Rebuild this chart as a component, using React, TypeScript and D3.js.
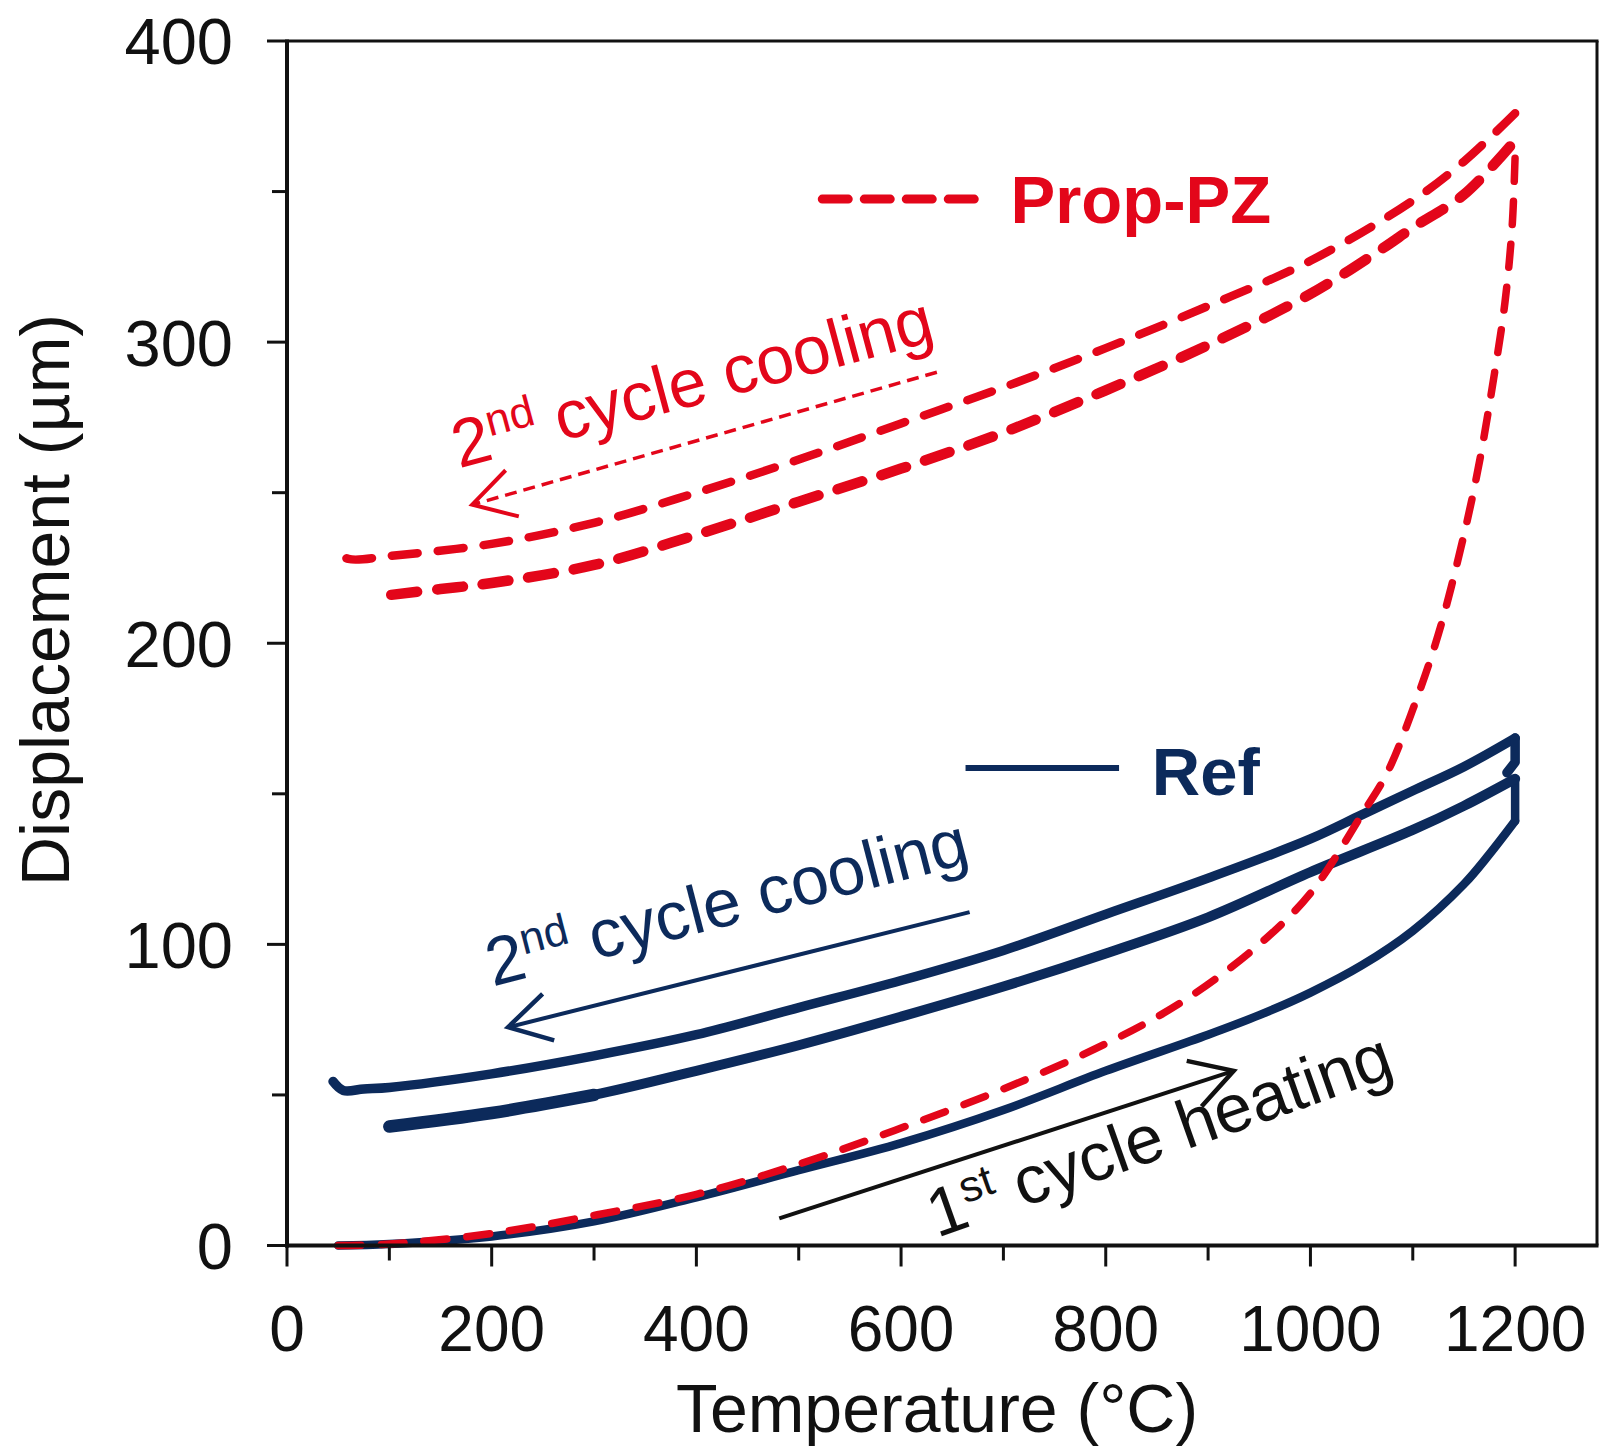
import React, { useEffect, useRef } from 'react';
import * as d3 from 'd3';

const WIDTH = 1602;
const HEIGHT = 1450;

const RED = '#e3061a';
const NAVY = '#0c2a5b';
const INK = '#111111';
const FONT = '"Liberation Sans", Arial, sans-serif';

// axis ticks
const xMajorTicks = [0, 200, 400, 600, 800, 1000, 1200];
const xMinorTicks = [100, 300, 500, 700, 900, 1100];
const yMajorTicks = [0, 100, 200, 300, 400];
const yMinorTicks = [50, 150, 250, 350];

// Prop-PZ (red dashed) : temperature (°C) / displacement (µm)
const pzHeatT = [50, 100, 200, 300, 400, 500, 600, 700, 800, 875, 950, 1000, 1050, 1075, 1100, 1125, 1150, 1165, 1180, 1190, 1197, 1200];
const pzHeatD = [0, 0.5, 4, 10, 17, 27, 39, 52, 67, 81, 100, 117, 143, 157, 178, 203, 236, 260, 290, 313, 338, 362];
const pzUpperT = [1200, 1150, 1100, 1000, 900, 800, 700, 600, 500, 400, 300, 200, 100, 60, 46];
const pzUpperD = [376, 360, 347, 327, 312, 298, 285, 273, 261, 250, 240, 233, 229, 228, 231];
const pzLowerT = [1195, 1150, 1100, 1070, 1000, 900, 800, 700, 600, 500, 400, 300, 200, 150, 100];
const pzLowerD = [365, 349, 338, 331, 316, 299, 284, 270, 258, 247, 236, 226, 220, 218, 216];

// Ref (navy solid)
const refHeatT = [50, 100, 200, 300, 400, 500, 600, 700, 800, 900, 950, 1000, 1050, 1100, 1150, 1175, 1200];
const refHeatD = [0, 0.5, 3, 8, 16, 25, 34, 45, 58, 70, 76.5, 84, 93, 104.5, 120, 130, 141];
const refHoldT = [1200, 1200];
const refHoldD = [141, 155];
const refMiddleT = [1200, 1150, 1100, 1000, 900, 800, 700, 600, 500, 400, 300, 200, 100];
const refMiddleD = [155, 146, 138, 124, 109, 97, 86, 76, 66.5, 58, 50, 44, 39.5];
const refUpperT = [45, 55, 75, 100, 200, 300, 400, 500, 600, 700, 800, 900, 1000, 1050, 1100, 1150, 1200];
const refUpperD = [54.5, 51.5, 52, 52.5, 57, 63, 70, 79, 88, 98, 110, 122, 135, 143, 151, 159, 168.5];
const refUpperHoldT = [1200, 1200, 1192];
const refUpperHoldD = [168.5, 160.5, 157];

type P = [number, number];
const zip = (t: number[], d: number[]): P[] => t.map((v, i) => [v, d[i]] as P);

const App: React.FC = () => {
  const svgRef = useRef<SVGSVGElement>(null);

  useEffect(() => {
    if (!svgRef.current) return;
    const svg = d3.select(svgRef.current);
    svg.selectAll('*').remove();

    const left = 287, right = 1597, top = 41, bottom = 1245.5;

    const x = d3.scaleLinear().domain([0, 1280]).range([left, right]);
    const y = d3.scaleLinear().domain([0, 400]).range([bottom, top]);

    const smooth = d3.line<P>()
      .x(d => x(d[0]))
      .y(d => y(d[1]))
      .curve(d3.curveCatmullRom.alpha(0.5));
    const straight = d3.line<P>()
      .x(d => x(d[0]))
      .y(d => y(d[1]));

    const g = svg.append('g');

    // Ref curves (drawn first, red goes over)
    const navyCurve = (data: P[], w: number, gen = smooth) =>
      g.append('path')
        .datum(data)
        .attr('fill', 'none')
        .attr('stroke', NAVY)
        .attr('stroke-width', w)
        .attr('stroke-linecap', 'round')
        .attr('stroke-linejoin', 'round')
        .attr('d', gen);

    navyCurve(zip(refHeatT, refHeatD), 8.5);
    navyCurve(zip(refHoldT, refHoldD), 8.5, straight);
    navyCurve(zip(refMiddleT, refMiddleD), 10);
    // thicker overlapping start of the cooling trace
    navyCurve(zip(refMiddleT, refMiddleD).filter(p => p[0] <= 300), 12.5);
    navyCurve(zip(refUpperT, refUpperD), 9.5);
    navyCurve(zip(refUpperHoldT, refUpperHoldD), 9.5, straight);

    // Prop-PZ curves
    const redCurve = (data: P[], w: number, dash: string) =>
      g.append('path')
        .datum(data)
        .attr('fill', 'none')
        .attr('stroke', RED)
        .attr('stroke-width', w)
        .attr('stroke-linecap', 'round')
        .attr('stroke-dasharray', dash)
        .attr('d', smooth);

    redCurve(zip(pzHeatT, pzHeatD), 7.5, '23,20');
    redCurve(zip(pzUpperT, pzUpperD), 8.5, '26,20');
    redCurve(zip(pzLowerT, pzLowerD), 10.5, '26,20');

    // Frame
    const frame = svg.append('g').attr('stroke', INK).attr('fill', 'none');
    frame.append('line').attr('x1', left).attr('x2', left).attr('y1', top - 1.5).attr('y2', bottom + 2).attr('stroke-width', 4);
    frame.append('line').attr('x1', left - 2).attr('x2', right + 1.5).attr('y1', bottom).attr('y2', bottom).attr('stroke-width', 4);
    frame.append('line').attr('x1', left).attr('x2', right + 1.5).attr('y1', top).attr('y2', top).attr('stroke-width', 3);
    frame.append('line').attr('x1', right).attr('x2', right).attr('y1', top).attr('y2', bottom).attr('stroke-width', 3);

    // Ticks
    xMajorTicks.forEach(t => frame.append('line').attr('x1', x(t)).attr('x2', x(t)).attr('y1', bottom).attr('y2', bottom + 21).attr('stroke-width', 3));
    xMinorTicks.forEach(t => frame.append('line').attr('x1', x(t)).attr('x2', x(t)).attr('y1', bottom).attr('y2', bottom + 15).attr('stroke-width', 3));
    yMajorTicks.forEach(t => frame.append('line').attr('x1', left - 20).attr('x2', left).attr('y1', y(t)).attr('y2', y(t)).attr('stroke-width', 3));
    yMinorTicks.forEach(t => frame.append('line').attr('x1', left - 15).attr('x2', left).attr('y1', y(t)).attr('y2', y(t)).attr('stroke-width', 3));

    const txt = svg.append('g').attr('font-family', FONT).attr('fill', INK);

    xMajorTicks.forEach(t =>
      txt.append('text')
        .attr('x', x(t)).attr('y', 1351)
        .attr('text-anchor', 'middle')
        .attr('font-size', 64)
        .text(String(t)));

    yMajorTicks.forEach(t =>
      txt.append('text')
        .attr('x', 233).attr('y', y(t))
        .attr('dy', '0.36em')
        .attr('text-anchor', 'end')
        .attr('font-size', 65)
        .text(String(t)));

    // Axis titles
    txt.append('text')
      .attr('x', (left + right) / 2 - 5).attr('y', 1432)
      .attr('text-anchor', 'middle')
      .attr('font-size', 68)
      .text('Temperature (°C)');

    txt.append('text')
      .attr('transform', `translate(69,600) rotate(-90)`)
      .attr('text-anchor', 'middle')
      .attr('font-size', 68)
      .text('Displacement (µm)');

    // Legends
    svg.append('line')
      .attr('x1', x(523)).attr('x2', x(673)).attr('y1', y(347.5)).attr('y2', y(347.5))
      .attr('stroke', RED).attr('stroke-width', 9).attr('stroke-linecap', 'round')
      .attr('stroke-dasharray', '26,16');
    txt.append('text')
      .attr('x', x(707)).attr('y', y(339.5))
      .attr('font-size', 67).attr('font-weight', 'bold').attr('fill', RED)
      .text('Prop-PZ');

    svg.append('line')
      .attr('x1', x(663)).attr('x2', x(813)).attr('y1', y(158.6)).attr('y2', y(158.6))
      .attr('stroke', NAVY).attr('stroke-width', 6);
    txt.append('text')
      .attr('x', x(845)).attr('y', y(149.6))
      .attr('font-size', 67).attr('font-weight', 'bold').attr('fill', NAVY)
      .text('Ref');

    // Annotation arrows
    const arrow = (tail: P, tip: P, color: string, w: number, dash?: string) => {
      const x0 = x(tail[0]), y0 = y(tail[1]), x1 = x(tip[0]), y1 = y(tip[1]);
      const a = Math.atan2(y0 - y1, x0 - x1);
      const len = 48, spread = Math.PI / 6;
      const shaft = svg.append('line')
        .attr('x1', x0).attr('y1', y0).attr('x2', x1).attr('y2', y1)
        .attr('stroke', color).attr('stroke-width', w);
      if (dash) shaft.attr('stroke-dasharray', dash);
      const head = [a - spread, a + spread].map(b => [x1 + len * Math.cos(b), y1 + len * Math.sin(b)]);
      svg.append('path')
        .attr('d', `M${head[0][0]},${head[0][1]}L${x1},${y1}L${head[1][0]},${head[1][1]}`)
        .attr('fill', 'none').attr('stroke', color).attr('stroke-width', w + 0.5)
        .attr('stroke-linejoin', 'miter');
    };

    arrow([635, 290], [181, 246], RED, 3.5, '12,7');
    arrow([667, 110.7], [216, 72.5], NAVY, 4);
    arrow([481, 9], [925, 58], INK, 4);

    // Annotation labels
    const label = (at: P, angle: number, main: string, sup: string, rest: string, color: string) => {
      const t = svg.append('text')
        .attr('transform', `translate(${x(at[0])},${y(at[1])}) rotate(${angle})`)
        .attr('font-family', FONT).attr('font-size', 68).attr('fill', color);
      t.append('tspan').text(main);
      t.append('tspan').attr('font-size', 44).attr('dy', -23).text(sup);
      t.append('tspan').attr('dy', 23).text(rest);
    };

    label([168, 258], -15, '2', 'nd', ' cycle cooling', RED);
    label([201, 86], -14.5, '2', 'nd', ' cycle cooling', NAVY);
    label([635, 2.5], -19.5, '1', 'st', ' cycle heating', INK);
  }, []);

  return (
    <svg
      ref={svgRef}
      width={WIDTH}
      height={HEIGHT}
      style={{ position: 'absolute', left: 0, top: 0, background: '#fff' }}
    />
  );
};

export default App;
